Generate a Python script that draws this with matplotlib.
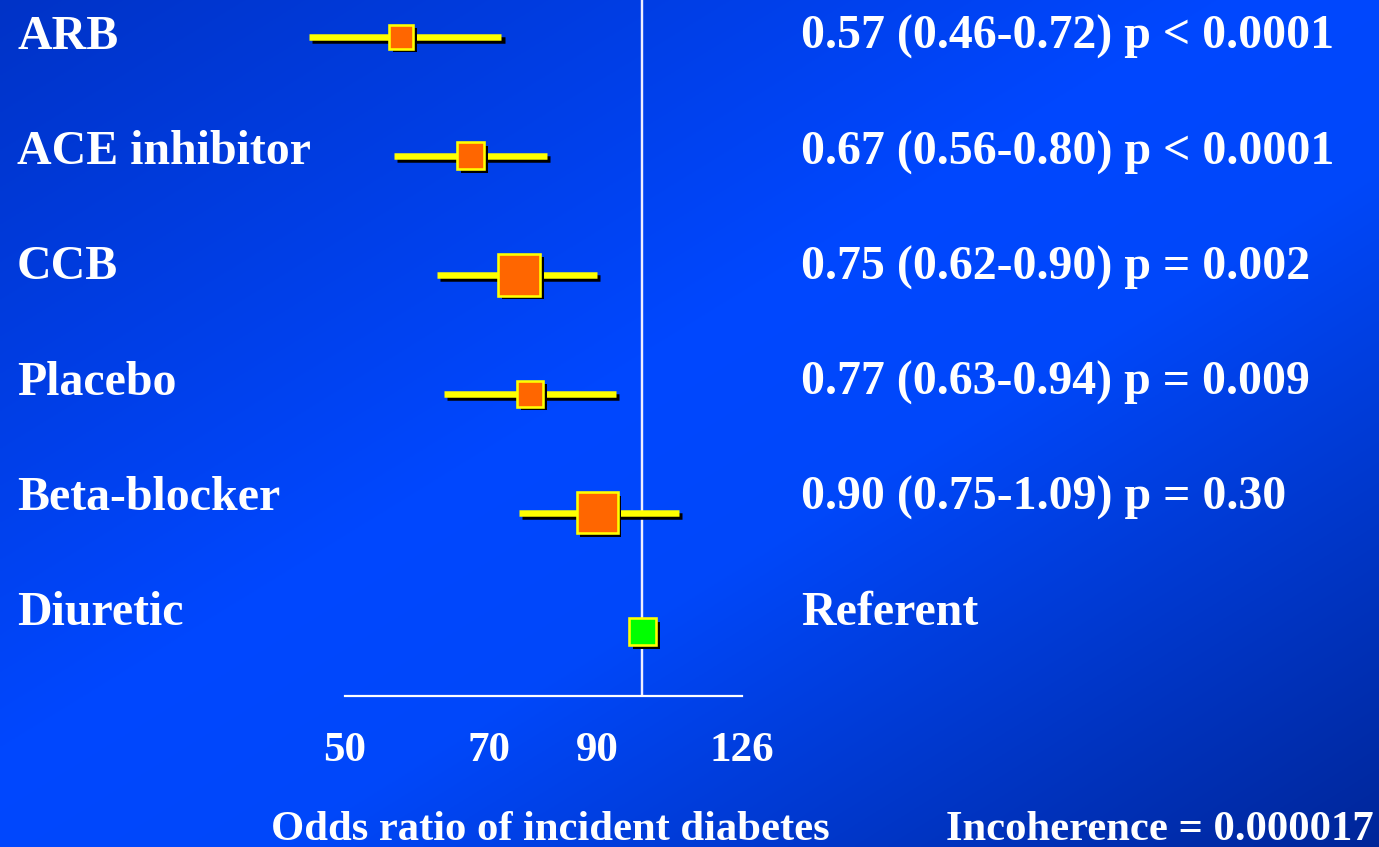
import numpy as np
import matplotlib
matplotlib.use("Agg")
import matplotlib.pyplot as plt
import matplotlib.patheffects as pe
from matplotlib.ticker import NullLocator

# odds ratio of incident diabetes for each drug class, diuretic as referent
drugs = ["ARB", "ACE inhibitor", "CCB", "Placebo", "Beta-blocker", "Diuretic"]
odds_ratio = [0.57, 0.67, 0.75, 0.77, 0.90, 1.00]
ci_low = [0.46, 0.56, 0.62, 0.63, 0.75, None]
ci_high = [0.72, 0.80, 0.90, 0.94, 1.09, None]
p_text = ["p < 0.0001", "p < 0.0001", "p = 0.002", "p = 0.009", "p = 0.30", None]
tick_vals = [0.5, 0.7, 0.9, 1.26]
tick_labels = ["50", "70", "90", "126"]
incoherence = "0.000017"

# box side in pixels (study weight)
box_px = [24, 27, 42, 26, 41, 27]
box_color = ["#FF6600"] * 5 + ["#00FF00"]

W, H, DPI = 1379, 847, 100
PX = 72 / DPI  # points per pixel
FONT = "Liberation Serif"
FS = 34.5
FS_SMALL = 30.7

fig = plt.figure(figsize=(W / DPI, H / DPI), dpi=DPI)

# diagonal blue gradient background
bg = fig.add_axes([0, 0, 1, 1])
yy, xx = np.mgrid[0:1:300j, 0:1:450j]
t = 0.5 * xx + 0.5 * yy
stops = [0.0, 0.45, 0.6, 1.0]
rgb = np.dstack([
    np.zeros_like(t),
    np.interp(t, stops, [0.20, 0.28, 0.28, 0.15]),
    np.interp(t, stops, [0.78, 1.00, 0.98, 0.60]),
])
bg.imshow(rgb, extent=[0, 1, 0, 1], aspect="auto", origin="upper")
bg.axis("off")

# forest plot area: 300..800 px wide, 0..696 px tall, rows 119 px apart
ax = fig.add_axes([300 / W, (H - 696) / H, 500 / W, 696 / H])
ax.set_facecolor("none")
ax.set_xscale("log")
ax.set_xlim(0.4502, 1.4436)
ax.set_ylim((696 - 36.5) / 119, -36.5 / 119)

ax.axvline(1.0, color="#EEEEFF", lw=2.4 * PX, zorder=2)

line_fx = [pe.SimpleLineShadow(offset=(2.2, -2.2), shadow_color="black", alpha=1), pe.Normal()]
box_fx = [pe.SimplePatchShadow(offset=(2.6, -2.6), shadow_rgbFace="black", alpha=1), pe.Normal()]

for i, (orv, lo, hi) in enumerate(zip(odds_ratio, ci_low, ci_high)):
    if lo is not None:
        ax.plot([lo, hi], [i, i], color="#FFFF00", lw=6.5 * PX,
                solid_capstyle="butt", path_effects=line_fx, zorder=3)
    ax.plot([orv], [i], ls="none", marker="s", ms=box_px[i] * PX,
            mfc=box_color[i], mec="#FFFF00", mew=2.6 * PX,
            path_effects=box_fx, zorder=4)

for side in ["top", "left", "right"]:
    ax.spines[side].set_visible(False)
ax.spines["bottom"].set_color("white")
ax.spines["bottom"].set_linewidth(2.2 * PX)
ax.spines["bottom"].set_bounds(tick_vals[0], tick_vals[-1])

ax.xaxis.set_minor_locator(NullLocator())
ax.set_xticks(tick_vals, tick_labels)
ax.set_yticks([])
ax.tick_params(axis="x", length=0, pad=26, labelcolor="white", labelsize=31)
for lab in ax.get_xticklabels():
    lab.set_fontfamily(FONT)
    lab.set_fontweight("bold")

ax.set_xlabel("Odds ratio of incident diabetes", fontsize=FS_SMALL, fontweight="bold",
              color="white", family=FONT)
ax.xaxis.set_label_coords(0.5, (696 - 840) / 696)
ax.xaxis.label.set_va("baseline")

# row labels and estimates
for i, name in enumerate(drugs):
    base = 1 - (49 + 115.2 * i) / H
    fig.text(17 / W, base, name, fontsize=FS, fontweight="bold", color="white",
             family=FONT, va="baseline", ha="left")
    if ci_low[i] is None:
        est = "Referent"
    else:
        est = f"{odds_ratio[i]:.2f} ({ci_low[i]:.2f}-{ci_high[i]:.2f}) {p_text[i]}"
    fig.text(801 / W, base, est, fontsize=FS, fontweight="bold", color="white",
             family=FONT, va="baseline", ha="left")

fig.text(1374 / W, 1 - 840 / H, f"Incoherence = {incoherence}", fontsize=FS_SMALL,
         fontweight="bold", color="white", family=FONT, va="baseline", ha="right")

fig.savefig("out.png", dpi=DPI)
